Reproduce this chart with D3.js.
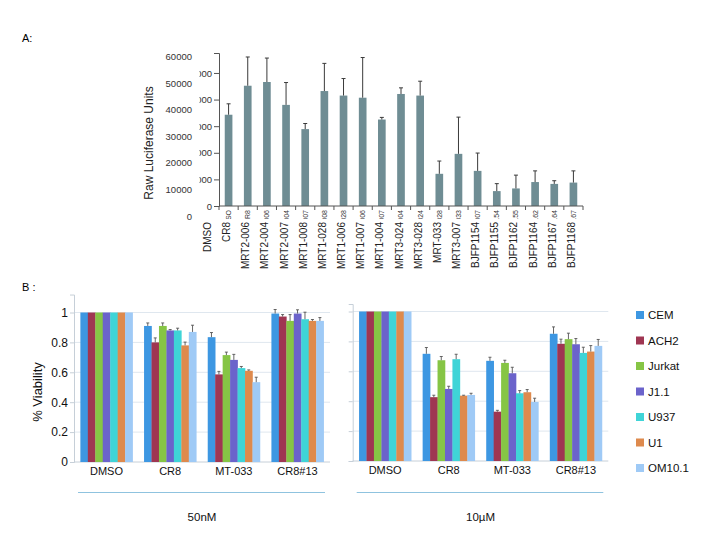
<!DOCTYPE html>
<html>
<head>
<meta charset="utf-8">
<script src="https://cdn.jsdelivr.net/npm/d3@7/dist/d3.min.js"></script>
<style>
  body { margin: 0; background: #fff; }
  svg { font-family: "Liberation Sans", Arial, sans-serif; }
</style>
</head>
<body>
<script>
'use strict';

// Panel A: luciferase readout per compound (bars), sd as upward error
var compounds = ['CR8', 'MRT2-006', 'MRT2-004', 'MRT2-007', 'MRT1-008', 'MRT1-028',
  'MRT1-006', 'MRT1-007', 'MRT1-004', 'MRT3-024', 'MRT3-028', 'MRT-033', 'MRT3-007',
  'BJFP1154', 'BJFP1155', 'BJFP1162', 'BJFP1164', 'BJFP1167', 'BJFP1168'];
var luciferase = [34300, 45200, 46600, 38000, 28900, 43200, 41500, 40700, 32500,
  42100, 41500, 12100, 19600, 13200, 5600, 6600, 9000, 8300, 8800];
var luciferaseErr = [4100, 10800, 9000, 8400, 2100, 10400, 6400, 15100, 800,
  2300, 5400, 4800, 13800, 6700, 2800, 5000, 4200, 1200, 4400];
// the original axis labels sit one slot off from the bars
var axisNamesA = ['DMSO'].concat(compounds.slice(0, -1));
var overlayNamesA = ['DMSO'].concat(compounds);
var yTicksA = [0, 10000, 20000, 30000, 40000, 50000];
var overlayTicksA = [0, 10000, 20000, 30000, 40000, 50000, 60000];

// Panel B: viability per treatment, values in cellLines order
var cellLines = ['CEM', 'ACH2', 'Jurkat', 'J1.1', 'U937', 'U1', 'OM10.1'];
var cellColors = ['#3d97e2', '#9f3652', '#86c545', '#6b63cb', '#3fd4d7', '#de8a4d', '#9fcaf6'];
var treatments = ['DMSO', 'CR8', 'MT-033', 'CR8#13'];
var viability50nM = [
  [1, 1, 1, 1, 1, 1, 1],
  [0.91, 0.80, 0.91, 0.88, 0.88, 0.78, 0.87],
  [0.835, 0.586, 0.715, 0.683, 0.628, 0.61, 0.534],
  [0.993, 0.973, 0.944, 0.993, 0.955, 0.944, 0.944]
];
var viability50nMErr = [
  [0, 0, 0, 0, 0, 0, 0],
  [0.02, 0.03, 0.02, 0.006, 0.015, 0.022, 0.045],
  [0.031, 0.02, 0.02, 0.037, 0.011, 0.006, 0.033],
  [0.027, 0.013, 0.042, 0.025, 0.047, 0.009, 0.022]
];
var viability10uM = [
  [1, 1, 1, 1, 1, 1, 1],
  [0.717, 0.427, 0.674, 0.482, 0.681, 0.437, 0.442],
  [0.67, 0.33, 0.656, 0.587, 0.453, 0.46, 0.395],
  [0.851, 0.784, 0.815, 0.781, 0.723, 0.732, 0.77]
];
var viability10uMErr = [
  [0, 0, 0, 0, 0, 0, 0],
  [0.042, 0.013, 0.025, 0.018, 0.033, 0.003, 0.011],
  [0.024, 0.009, 0.018, 0.04, 0.018, 0.018, 0.025],
  [0.046, 0.031, 0.04, 0.038, 0.038, 0.04, 0.043]
];
var viabilityTicks = [0, 0.2, 0.4, 0.6, 0.8, 1];

var svg = d3.select('body').append('svg')
  .attr('width', 720)
  .attr('height', 540);

var defs = svg.append('defs');

/**
 * Panel A, luciferase bars with the two overlapping label layers.
 */
function drawLuciferase(root) {
  var g = root.append('g').attr('class', 'panel-a'),
      x, xOverlay, y, yOverlay, axisY, axisX, step, bounds;

  x = d3.scaleBand().domain(compounds).range([219, 583]).paddingInner(0.6).paddingOuter(0.3);
  step = x.step();
  y = d3.scaleLinear().domain([0, 57500]).range([206, 53]);
  yOverlay = d3.scaleLinear().domain([0, 60000]).range([216, 216 - 6 * 26.6]);
  xOverlay = d3.scaleBand().domain(overlayNamesA).range([219 - step, 583])
    .paddingInner(0.6).paddingOuter(0.3);

  // clip rects are in the local space of the translated axis groups
  defs.append('clipPath').attr('id', 'clip-ay')
    .append('rect').attr('x', -19.5).attr('y', 40).attr('width', 40).attr('height', 190);
  defs.append('clipPath').attr('id', 'clip-ax')
    .append('rect').attr('x', 200).attr('y', 0).attr('width', 400).attr('height', 13);

  g.append('text')
    .attr('x', 22).attr('y', 42)
    .style('font-size', '11px')
    .text('A:');

  // real y axis, labels half covered
  axisY = g.append('g')
    .attr('transform', 'translate(219,0)')
    .attr('clip-path', 'url(#clip-ay)')
    .call(d3.axisLeft(y).tickValues(yTicksA).tickSize(5).tickPadding(2)
      .tickFormat(d3.format('d')));
  axisY.select('.domain').attr('stroke', '#555');
  axisY.selectAll('.tick line').attr('stroke', '#555');
  axisY.selectAll('text').style('font-size', '9.5px').attr('fill', '#333');

  // overlaid labels
  g.append('g')
    .attr('transform', 'translate(192,0)')
    .call(d3.axisLeft(yOverlay).tickValues(overlayTicksA).tickSize(0).tickPadding(0)
      .tickFormat(d3.format('d')))
    .call(function(sel) {
      sel.select('.domain').remove();
      sel.selectAll('text').style('font-size', '9.5px').attr('fill', '#333');
    });

  g.append('text')
    .attr('transform', 'translate(153,143) rotate(-90)')
    .attr('text-anchor', 'middle')
    .style('font-size', '12px')
    .attr('fill', '#222')
    .text('Raw Luciferase Units');

  // bars and errors
  g.selectAll('rect.bar')
    .data(compounds)
    .enter().append('rect')
    .attr('class', 'bar')
    .attr('x', function(d) { return x(d); })
    .attr('width', x.bandwidth())
    .attr('y', function(d, i) { return y(luciferase[i]); })
    .attr('height', function(d, i) { return y(0) - y(luciferase[i]); })
    .attr('fill', '#6f8d94');

  g.selectAll('path.err')
    .data(compounds)
    .enter().append('path')
    .attr('class', 'err')
    .attr('d', function(d, i) {
      var cx = x(d) + x.bandwidth() / 2,
          top = y(luciferase[i] + luciferaseErr[i]);
      return 'M' + cx + ',' + y(luciferase[i]) + 'V' + top +
        'M' + (cx - 2) + ',' + top + 'H' + (cx + 2);
    })
    .attr('fill', 'none')
    .attr('stroke', '#3a3a3a')
    .attr('stroke-width', 1);

  // x axis with ticks at band boundaries
  g.append('line')
    .attr('x1', 219).attr('x2', 583)
    .attr('y1', 206).attr('y2', 206)
    .attr('stroke', '#555');
  bounds = compounds.map(function(d) { return x(d) - (step - x.bandwidth()) / 2; });
  bounds.push(583);
  g.selectAll('line.xtick')
    .data(bounds)
    .enter().append('line')
    .attr('class', 'xtick')
    .attr('x1', function(d) { return d; }).attr('x2', function(d) { return d; })
    .attr('y1', 206).attr('y2', 210)
    .attr('stroke', '#555');

  axisX = g.append('g')
    .attr('transform', 'translate(0,206)')
    .attr('clip-path', 'url(#clip-ax)')
    .call(d3.axisBottom(x).tickSize(0).tickFormat(function(d, i) { return axisNamesA[i]; }));
  axisX.select('.domain').remove();
  axisX.selectAll('text')
    .attr('transform', 'rotate(-90)')
    .attr('x', -4).attr('y', 0).attr('dy', '0.35em')
    .style('text-anchor', 'end')
    .style('font-size', '7px')
    .attr('fill', '#333');

  g.selectAll('text.name')
    .data(overlayNamesA)
    .enter().append('text')
    .attr('class', 'name')
    .attr('transform', function(d) {
      return 'translate(' + (xOverlay(d) + xOverlay.bandwidth() / 2 - 2) + ',222) rotate(-90)';
    })
    .attr('dy', '0.35em')
    .attr('text-anchor', 'end')
    .style('font-size', '10px')
    .attr('fill', '#222')
    .text(function(d) { return d; });
}

/**
 * One grouped viability chart of panel B.
 */
function drawViability(root, opts) {
  var g = root.append('g'),
      x, xInner, y, axis, rows;

  x = d3.scaleBand().domain(treatments).range(opts.xRange).paddingInner(0.18).paddingOuter(0.1);
  xInner = d3.scaleBand().domain(cellLines).range([0, x.bandwidth()]);
  y = d3.scaleLinear().domain([0, opts.yMax]).range([opts.y0, opts.y0 - opts.yMax * 149.5]);

  g.selectAll('line.grid')
    .data(viabilityTicks.slice(1))
    .enter().append('line')
    .attr('class', 'grid')
    .attr('x1', opts.xRange[0]).attr('x2', opts.xRange[1])
    .attr('y1', function(d) { return y(d); }).attr('y2', function(d) { return y(d); })
    .attr('stroke', '#dfe7ef');

  axis = g.append('g')
    .attr('transform', 'translate(' + opts.xRange[0] + ',0)')
    .call(d3.axisLeft(y).tickValues(viabilityTicks).tickSize(4).tickPadding(2)
      .tickFormat(opts.labels ? d3.format('~g') : function() { return ''; }));
  axis.select('.domain').attr('stroke', '#c6cfd8');
  axis.selectAll('.tick line').attr('stroke', '#c6cfd8');
  axis.selectAll('text').style('font-size', '12px').attr('fill', '#111');

  g.append('line')
    .attr('x1', opts.xRange[0]).attr('x2', opts.xRange[1])
    .attr('y1', y(0)).attr('y2', y(0))
    .attr('stroke', '#c6cfd8');

  rows = g.selectAll('g.treatment')
    .data(treatments)
    .enter().append('g')
    .attr('class', 'treatment')
    .attr('transform', function(d) { return 'translate(' + x(d) + ',0)'; });

  rows.selectAll('rect')
    .data(function(d, i) { return opts.values[i]; })
    .enter().append('rect')
    .attr('x', function(d, j) { return xInner(cellLines[j]); })
    .attr('width', xInner.bandwidth() + 0.3)
    .attr('y', function(d) { return y(d); })
    .attr('height', function(d) { return y(0) - y(d); })
    .attr('fill', function(d, j) { return cellColors[j]; });

  rows.selectAll('path')
    .data(function(d, i) {
      return opts.values[i].map(function(v, j) { return [v, opts.errors[i][j]]; });
    })
    .enter().append('path')
    .filter(function(d) { return d[1] > 0; })
    .attr('d', function(d, j) {
      var cx = xInner(cellLines[j]) + xInner.bandwidth() / 2,
          top = y(d[0] + d[1]);
      return 'M' + cx + ',' + y(d[0]) + 'V' + top +
        'M' + (cx - 1.5) + ',' + top + 'H' + (cx + 1.5);
    })
    .attr('fill', 'none')
    .attr('stroke', '#555')
    .attr('stroke-width', 0.9);

  g.append('g')
    .attr('transform', 'translate(0,' + y(0) + ')')
    .call(d3.axisBottom(x).tickSize(0).tickPadding(5))
    .call(function(sel) {
      sel.select('.domain').remove();
      sel.selectAll('text').style('font-size', '11px').attr('fill', '#111');
    });

  g.append('line')
    .attr('x1', opts.xRange[0] + 4).attr('x2', opts.xRange[1] - 5)
    .attr('y1', 492.5).attr('y2', 492.5)
    .attr('stroke', '#8fc3df')
    .attr('stroke-width', 1.2);

  g.append('text')
    .attr('x', (opts.xRange[0] + opts.xRange[1]) / 2)
    .attr('y', 521)
    .attr('text-anchor', 'middle')
    .style('font-size', '11.5px')
    .attr('fill', '#111')
    .text(opts.dose);
}

function drawLegend(root) {
  var items = root.append('g').selectAll('g')
    .data(cellLines)
    .enter().append('g')
    .attr('transform', function(d, i) { return 'translate(636,' + (315 + i * 25.5) + ')'; });
  items.append('rect')
    .attr('x', 0).attr('y', -4)
    .attr('width', 8).attr('height', 8)
    .attr('fill', function(d, i) { return cellColors[i]; });
  items.append('text')
    .attr('x', 12).attr('dy', '0.35em')
    .style('font-size', '11.5px')
    .attr('fill', '#111')
    .text(function(d) { return d; });
}

drawLuciferase(svg);

svg.append('text')
  .attr('x', 22).attr('y', 291)
  .style('font-size', '11px')
  .text('B :');

svg.append('text')
  .attr('transform', 'translate(42,392) rotate(-90)')
  .attr('text-anchor', 'middle')
  .style('font-size', '13px')
  .attr('fill', '#111')
  .text('% Viability');

drawViability(svg, {
  xRange: [74, 330], y0: 462, yMax: 1.12, labels: true,
  values: viability50nM, errors: viability50nMErr, dose: '50nM'
});
drawViability(svg, {
  xRange: [352.7, 608.3], y0: 461, yMax: 1.05, labels: false,
  values: viability10uM, errors: viability10uMErr, dose: '10µM'
});
drawLegend(svg);
</script>
</body>
</html>
